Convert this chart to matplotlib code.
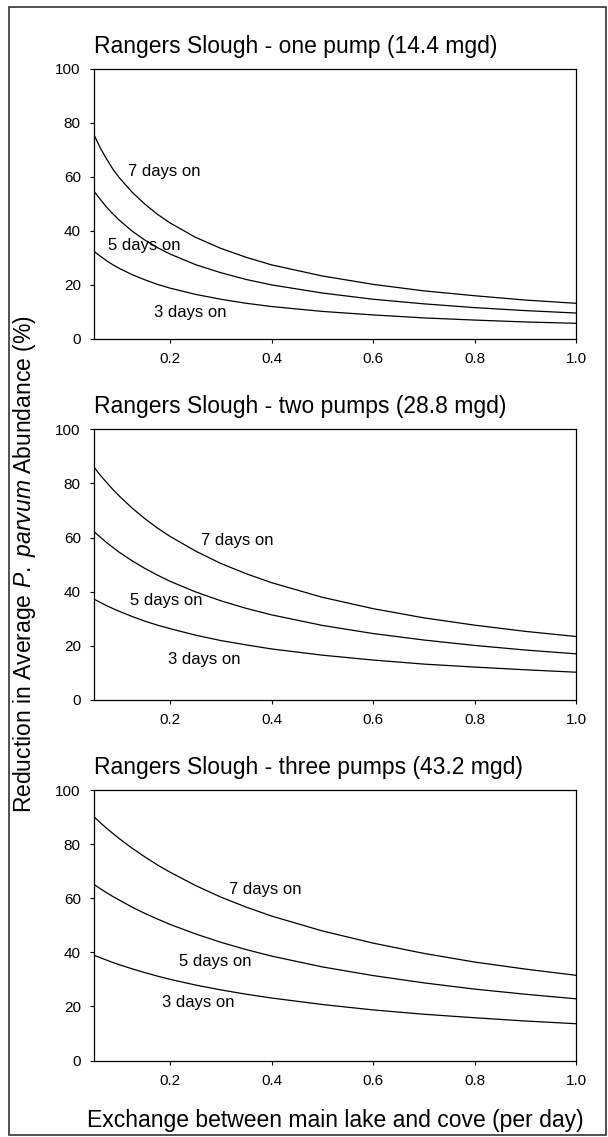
import matplotlib
matplotlib.use('Agg')
from matplotlib import pyplot as plt
from matplotlib.patches import Rectangle

plt.rcParams['font.family'] = ['Liberation Sans', 'DejaVu Sans']
plt.rcParams['mathtext.fontset'] = 'custom'
plt.rcParams['mathtext.rm'] = 'Liberation Sans'
plt.rcParams['mathtext.it'] = 'Liberation Sans:italic'

# exchange rate between main lake and cove (per day)
exchange = [0.05, 0.0625, 0.075, 0.0875, 0.1, 0.125, 0.15, 0.175, 0.2, 0.25,
            0.3, 0.35, 0.4, 0.5, 0.6, 0.7, 0.8, 0.9, 1.0]

# reduction in average abundance (%), one curve per pumping duration
one_pump_7d = [75.5, 70.6, 66.5, 62.7, 59.6, 54.3, 49.9, 46.1, 42.9, 37.6,
               33.5, 30.2, 27.4, 23.3, 20.2, 17.8, 16.0, 14.4, 13.2]
one_pump_5d = [54.6, 51.6, 48.7, 46.2, 43.9, 39.9, 36.6, 33.8, 31.4, 27.5,
               24.5, 22.0, 20.0, 17.0, 14.7, 13.0, 11.6, 10.5, 9.6]
one_pump_3d = [32.4, 30.6, 28.9, 27.4, 26.1, 23.8, 21.9, 20.2, 18.8, 16.5,
               14.7, 13.2, 12.0, 10.2, 8.9, 7.8, 7.0, 6.3, 5.8]

two_pumps_7d = [86.0, 83.0, 80.3, 77.7, 75.3, 70.9, 67.0, 63.5, 60.4, 55.0,
                50.4, 46.6, 43.3, 37.9, 33.7, 30.3, 27.6, 25.3, 23.4]
two_pumps_5d = [62.2, 60.1, 58.1, 56.3, 54.5, 51.4, 48.6, 46.1, 43.8, 39.9,
                36.6, 33.8, 31.4, 27.5, 24.5, 22.1, 20.1, 18.4, 17.0]
two_pumps_3d = [37.2, 36.0, 34.8, 33.7, 32.7, 30.8, 29.1, 27.6, 26.3, 23.9,
                21.9, 20.3, 18.8, 16.5, 14.7, 13.2, 12.1, 11.1, 10.2]

three_pumps_7d = [90.1, 87.9, 85.8, 83.9, 82.0, 78.5, 75.3, 72.3, 69.6, 64.7,
                  60.4, 56.7, 53.4, 47.9, 43.4, 39.6, 36.4, 33.8, 31.5]
three_pumps_5d = [65.1, 63.5, 62.0, 60.6, 59.3, 56.7, 54.4, 52.3, 50.3, 46.8,
                  43.7, 41.0, 38.6, 34.6, 31.4, 28.7, 26.4, 24.5, 22.8]
three_pumps_3d = [38.9, 38.0, 37.1, 36.2, 35.4, 33.9, 32.5, 31.2, 30.0, 27.9,
                  26.1, 24.5, 23.1, 20.7, 18.7, 17.1, 15.8, 14.6, 13.6]

titles = ['Rangers Slough - one pump (14.4 mgd)',
          'Rangers Slough - two pumps (28.8 mgd)',
          'Rangers Slough - three pumps (43.2 mgd)']
curve_labels = ['7 days on', '5 days on', '3 days on']
xticks = [0.2, 0.4, 0.6, 0.8, 1.0]
yticks = [0, 20, 40, 60, 80, 100]

panels = [
    (one_pump_7d, one_pump_5d, one_pump_3d),
    (two_pumps_7d, two_pumps_5d, two_pumps_3d),
    (three_pumps_7d, three_pumps_5d, three_pumps_3d),
]
# where the "n days on" text sits in each panel (left edge, vertical centre)
label_pos = [
    [(0.117, 62.0), (0.077, 34.6), (0.168, 9.9)],
    [(0.260, 58.9), (0.120, 36.6), (0.196, 15.0)],
    [(0.316, 63.2), (0.218, 36.5), (0.184, 21.4)],
]

W, H = 608, 1137
fig = plt.figure(figsize=(W / 100, H / 100), dpi=100)

ax_left, ax_right = 94, 576
ax_tops = [68.5, 429.3, 790]
ax_h = 270.5

for i, (curves, title) in enumerate(zip(panels, titles)):
    top = ax_tops[i]
    ax = fig.add_axes([ax_left / W, 1 - (top + ax_h) / H,
                       (ax_right - ax_left) / W, ax_h / H])
    for ys in curves:
        ax.plot(exchange, ys, color='black', lw=0.9)
    for txt, (lx, ly) in zip(curve_labels, label_pos[i]):
        ax.text(lx, ly, txt, fontsize=12, ha='left', va='center')
    ax.set_xlim(0.05, 1.0)
    ax.set_ylim(0, 100)
    ax.set_xticks(xticks)
    ax.set_xticklabels(['%.1f' % t for t in xticks])
    ax.set_yticks(yticks)
    ax.tick_params(direction='out', length=3, width=0.8, labelsize=11)
    ax.tick_params(axis='x', pad=6.5)
    ax.tick_params(axis='y', pad=6.5)
    for sp in ax.spines.values():
        sp.set_linewidth(0.9)
    ax.set_title(title, loc='left', fontsize=16.5, pad=11.5)

fig.text(25 / W, 1 - 564 / H,
         r'Reduction in Average $\mathit{P.\ parvum}$ Abundance (%)',
         rotation=90, ha='center', va='center', fontsize=16.5)
fig.text(335 / W, 1 - 1120 / H,
         'Exchange between main lake and cove (per day)',
         ha='center', va='center', fontsize=16.5)

# outer border around the whole figure
fig.patches.append(Rectangle((9 / W, 1 - 1135 / H), 597 / W, 1128 / H,
                             transform=fig.transFigure, fill=False,
                             edgecolor='#333333', lw=1.2))

fig.savefig('out.png', dpi=100)
